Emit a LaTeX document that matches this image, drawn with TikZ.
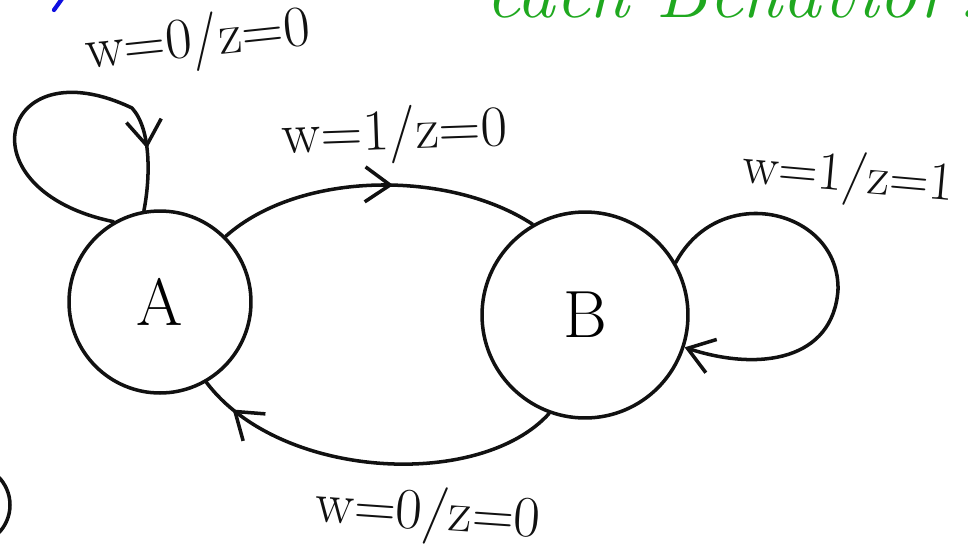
\documentclass[tikz,border=0pt]{standalone}
\usetikzlibrary{arrows.meta, decorations.markings}
\definecolor{cink}{HTML}{111111}
\definecolor{cgreen}{HTML}{1FA81F}
\definecolor{cblue}{HTML}{1010E0}
\tikzset{
  every picture/.style={line width=2pt, line cap=round},
  state/.style={circle, draw=cink, line width=2pt, inner sep=0pt, font=\fontsize{38}{42}\selectfont},
  trans/.style={draw=cink, line width=2pt},
  tip/.style={decoration={markings, mark=at position #1 with {\arrow{Straight Barb[length=5mm, width=7mm]}}}, postaction=decorate},
  lbl/.style={font=\fontsize{33}{36}\selectfont, text=cink, inner sep=1pt},
}
\begin{document}
\begin{tikzpicture}[x=0.02cm, y=-0.02cm]
  \useasboundingbox (0,0) rectangle (968,556);
  \clip (0,0) rectangle (968,556);
  % states
  \node[state, minimum size=3.64cm] (A) at (160,302) {A};
  \node[state, minimum size=4.12cm] (B) at (585,315) {B};
  % transitions
  \draw[trans, tip=0.84] (A.120) .. controls (-40,190) and (0,45) .. (132,108)
        .. controls (152,130) and (150,180) .. (A.100);
  \draw[trans, tip=0.55] (A.45) .. controls (300,170) and (450,170) .. (B.120);
  \draw[trans, tip=0.9] (B.250) .. controls (480,490) and (280,480) .. (A.300);
  \draw[trans, -{Straight Barb[length=5mm, width=7mm]}] (B.30) .. controls (720,180) and (840,210) .. (838,290)
        .. controls (833,360) and (760,372) .. (B.-18);
  % labels
  \node[lbl, rotate=6] (lblAA) at (198,42) {w=0/z=0};
  \node[lbl, rotate=2] (lblAB) at (395,135) {w=1/z=0};
  \node[lbl, rotate=-5, font=\fontsize{31}{34}\selectfont] (lblBB) at (848,178) {w=1/z=1};
  \node[lbl, rotate=-4] (lblBA) at (428,515) {w=0/z=0};
  % cut-off strokes at the edges
  \node[cgreen, anchor=base west, font=\fontsize{44}{48}\selectfont\itshape] (note) at (478,17) {each Behavior?};
  \draw[cblue, line width=2.4pt] (54,10) -- (64,-4);
  \draw[cink] (-30,505) circle (40);
\end{tikzpicture}
\end{document}
